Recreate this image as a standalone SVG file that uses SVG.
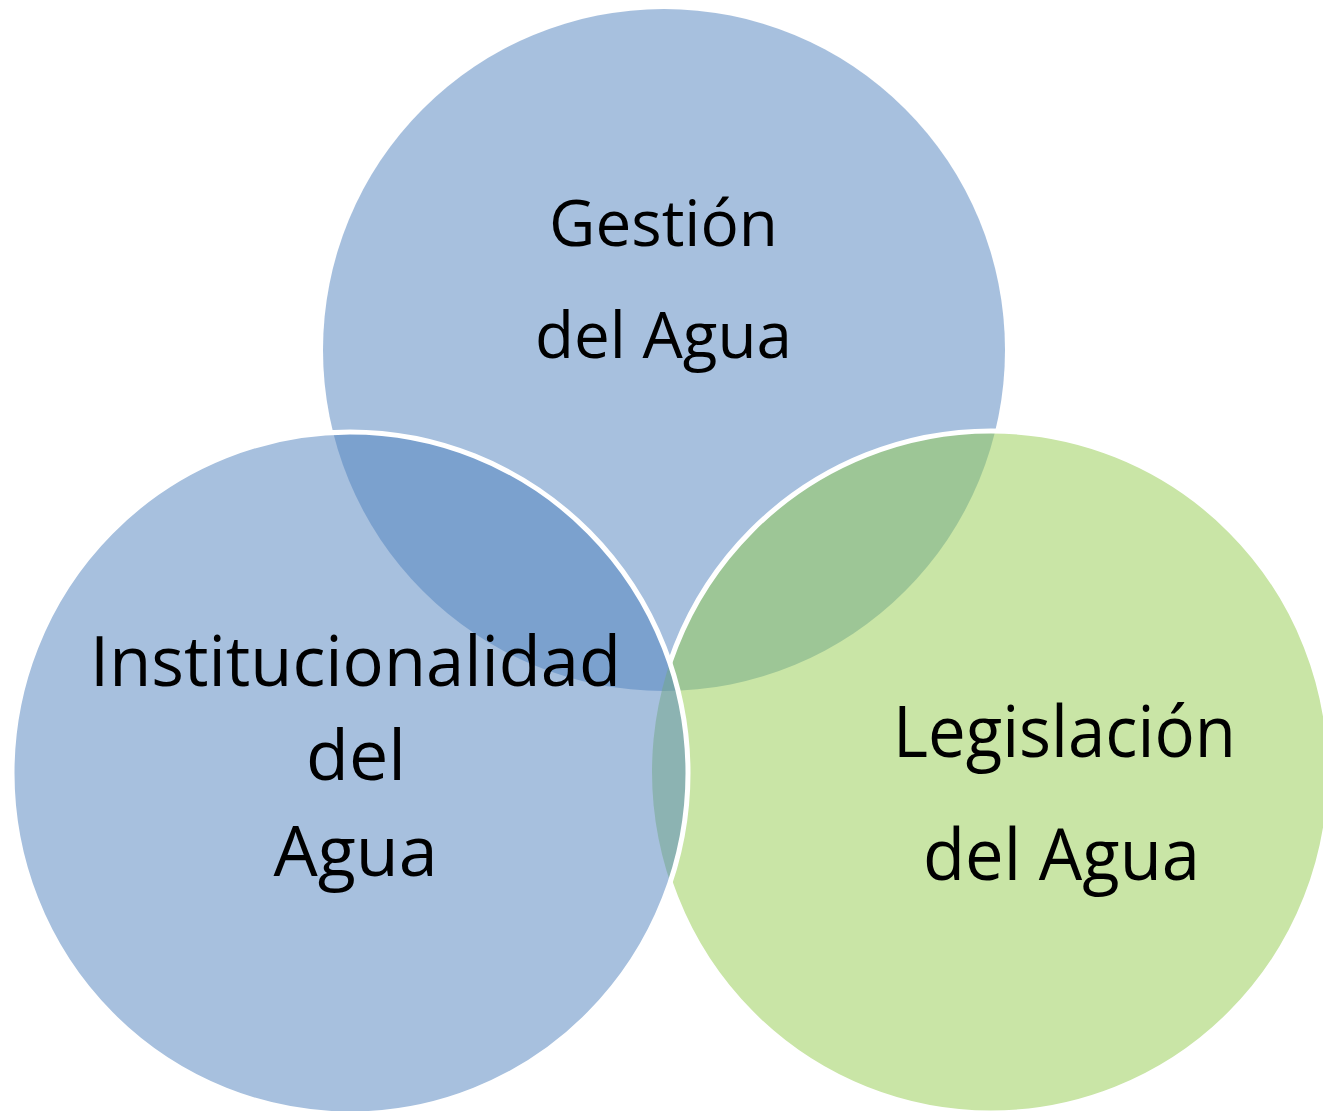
<svg xmlns="http://www.w3.org/2000/svg" width="1323" height="1111" viewBox="0 0 1323 1111">
<style>
.blue{fill:#4F81BD;fill-opacity:0.5}
.green{fill:#93CB4D;fill-opacity:0.5}
.outline{fill:none;stroke:#FFFFFF;stroke-width:5}
.lbl{font-family:"Open Sans","Liberation Sans",sans-serif;fill:#000000;text-anchor:middle}
</style>
<defs>
<mask id="notLeft" maskUnits="userSpaceOnUse" x="0" y="0" width="1323" height="1111">
<rect x="0" y="0" width="1323" height="1111" fill="#FFFFFF"/>
<ellipse cx="350" cy="773" rx="338" ry="341" fill="#000000"/>
</mask>
</defs>
<rect x="0" y="0" width="1323" height="1111" fill="#FFFFFF"/>
<g id="node-gestion">
<circle class="blue" cx="664" cy="350" r="341"/>
<text class="lbl" font-size="64" x="663.5" y="246" textLength="229" lengthAdjust="spacingAndGlyphs">Gestión</text>
<text class="lbl" font-size="64" x="663.5" y="358" textLength="257" lengthAdjust="spacingAndGlyphs">del Agua</text>
</g>
<g id="node-legislacion">
<ellipse class="green" cx="991" cy="772" rx="339" ry="341"/>
<ellipse class="outline" cx="991" cy="772" rx="339" ry="341" mask="url(#notLeft)"/>
<text class="lbl" font-size="71" x="1064.5" y="757" textLength="343" lengthAdjust="spacingAndGlyphs">Legislación</text>
<text class="lbl" font-size="71" x="1061.5" y="880" textLength="277" lengthAdjust="spacingAndGlyphs">del Agua</text>
</g>
<g id="node-institucionalidad">
<ellipse class="blue" cx="350" cy="773" rx="338" ry="341"/>
<ellipse class="outline" cx="350" cy="773" rx="338" ry="341"/>
<text class="lbl" font-size="70" x="355.5" y="686" textLength="531" lengthAdjust="spacingAndGlyphs">Institucionalidad</text>
<text class="lbl" font-size="70" x="356" y="780">del</text>
<text class="lbl" font-size="70" x="355.5" y="876">Agua</text>
</g>
<g id="connectors"/>
</svg>
